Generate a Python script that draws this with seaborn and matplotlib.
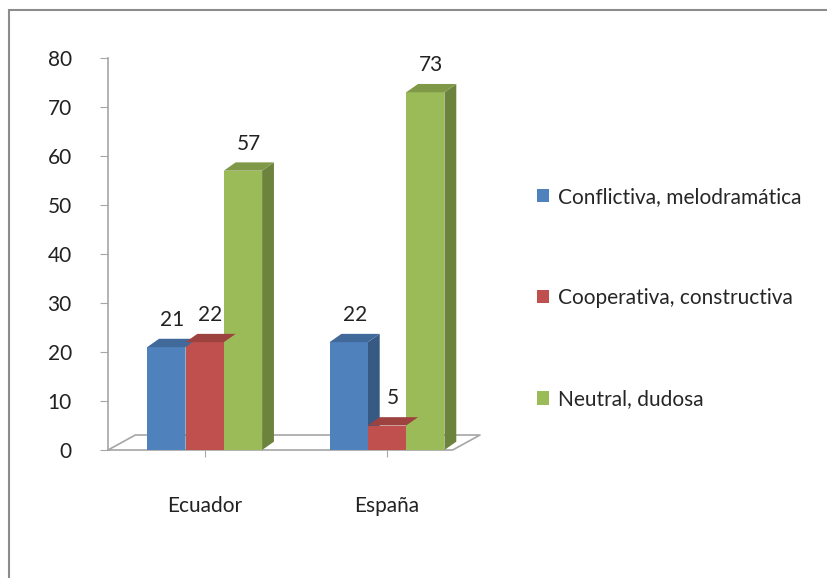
import matplotlib
matplotlib.use("Agg")
import matplotlib.pyplot as plt
import matplotlib.colors as mcolors
from matplotlib.patches import Polygon, Rectangle, Patch
import numpy as np
import pandas as pd
import seaborn as sns

# Data
countries = ["Ecuador", "España"]
series = ["Conflictiva, melodramática", "Cooperativa, constructiva", "Neutral, dudosa"]
ecuador_vals = [21, 22, 57]
espana_vals = [22, 5, 73]
colors = ["#4F81BD", "#C0504D", "#9BBB59"]

df = pd.DataFrame({
    "pais": [countries[0]] * 3 + [countries[1]] * 3,
    "tipo": series * 2,
    "valor": ecuador_vals + espana_vals,
})

sns.set_style("white")
plt.rcParams["font.family"] = ["Lato", "DejaVu Sans"]

fig = plt.figure(figsize=(8.28, 5.78), dpi=100)
ax = fig.add_axes([108 / 828, 1 - 450 / 578, 372 / 828, (450 - 58) / 578])

sns.barplot(data=df, x="pais", y="valor", hue="tipo", palette=colors,
            width=0.63, saturation=1, ax=ax, legend=False, zorder=3,
            linewidth=0, edgecolor="none")

# Fake 3D faces built from each bar's own geometry
dx = 0.065   # depth in x data units
dy = 1.7     # depth in y data units
for bar in ax.patches:
    x0 = bar.get_x()
    x1 = x0 + bar.get_width()
    h = bar.get_height()
    base = mcolors.to_rgb(bar.get_facecolor())
    side = tuple(c * 0.7 for c in base)
    top = tuple(c * 0.82 for c in base)
    ax.add_patch(Polygon([(x1, 0), (x1 + dx, dy), (x1 + dx, h + dy), (x1, h)],
                         closed=True, facecolor=side, edgecolor="none", zorder=2))
    ax.add_patch(Polygon([(x0, h), (x0 + dx, h + dy), (x1 + dx, h + dy), (x1, h)],
                         closed=True, facecolor=top, edgecolor="none", zorder=4))
    ax.text(x0 + bar.get_width() / 2 + dx / 2, h + dy + 1.8, f"{int(h)}",
            ha="center", va="bottom", fontsize=15, color="#222222", zorder=5)

# floor outline
xl = (-0.53, 1.51)
ax.plot([xl[0], xl[0] + 0.15, xl[1], xl[1] - 0.15, xl[0]],
        [0, dy * 1.8, dy * 1.8, 0, 0], color="#A6A6A6", lw=1.2,
        zorder=1, clip_on=False)

ax.set_xlim(*xl)
ax.set_ylim(0, 80)
ax.set_yticks(range(0, 81, 10))
ax.tick_params(axis="y", labelsize=15, colors="#222222", length=6,
               direction="out", left=True, color="#A6A6A6", pad=20)
ax.tick_params(axis="x", labelsize=15, colors="#222222", length=5,
               bottom=True, color="#A6A6A6", pad=28)
ax.set_xlabel("")
ax.set_ylabel("")
for s in ["top", "right", "bottom"]:
    ax.spines[s].set_visible(False)
ax.spines["left"].set_color("#A6A6A6")
ax.spines["left"].set_linewidth(1.2)

# legend
handles = [Patch(facecolor=c, edgecolor="none") for c in colors]
fig.legend(handles, series, loc="upper left", bbox_to_anchor=(518 / 828, 1 - 168 / 578),
           frameon=False, fontsize=15, handlelength=0.6, handleheight=0.6,
           handletextpad=0.4, labelspacing=3.9)

# outer chart border
fig.patches.append(Rectangle((9 / 828, -0.02), 1.0, 1 - 10 / 578 + 0.02,
                             transform=fig.transFigure, fill=False,
                             edgecolor="#8C8C8C", lw=1.5))

fig.savefig("out.png", dpi=100)
